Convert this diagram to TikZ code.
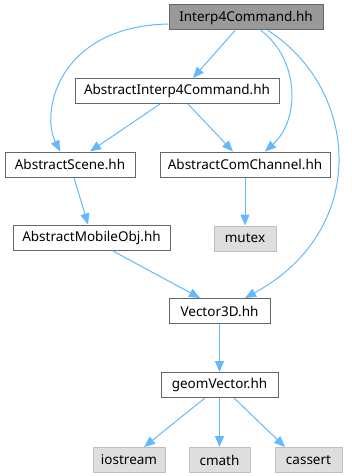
\documentclass[tikz,border=0pt]{standalone}
\usepackage{fontspec}
\setmainfont{Noto Sans}
\usepackage{xcolor}
\definecolor{cEdge}{HTML}{63B8FF}
\definecolor{cBorder}{HTML}{666666}
\definecolor{cRoot}{HTML}{999999}
\definecolor{cExt}{HTML}{DEDEDE}
\definecolor{cExtBorder}{HTML}{BFBFBF}
\usepackage{tikz}
\usetikzlibrary{positioning,arrows.meta}
\tikzset{
  node-box/.style={draw=cBorder,fill=white,line width=1pt,inner sep=0pt,
    minimum height=25pt,align=center,font=\fontsize{13.5}{15}\selectfont},
  node-root/.style={fill=cRoot},
  node-ext/.style={draw=cExtBorder,fill=cExt},
  arrow/.style={-{Triangle[length=11pt,width=9pt]},line width=1pt,draw=cEdge},
}

\begin{document}
\begin{tikzpicture}[x=1pt,y=-1pt,node distance=48pt and 23pt]
  \useasboundingbox (0,0) rectangle (352,476);
  \node[node-box,node-root,minimum width=154pt] (root) at (246,17.5) {Interp4Command.hh};
  \node[node-box,minimum width=204pt] (interp) at (177,91) {AbstractInterp4Command.hh};
  \node[node-box,minimum width=130pt] (scene) at (70,164.5) {AbstractScene.hh};
  \node[node-box,minimum width=170pt] (chan) at (245,164.5) {AbstractComChannel.hh};
  \node[node-box,minimum width=157pt] (mobile) at (91.5,237.5) {AbstractMobileObj.hh};
  \node[node-box,node-ext,minimum width=62pt,below=of chan] (mutex) {mutex};
  \node[node-box,minimum width=101pt] (vec) at (219.5,311) {Vector3D.hh};
  \node[node-box,minimum width=117pt,below=of vec] (geom) {geomVector.hh};
  \node[node-box,node-ext,minimum width=61pt,below=49pt of geom] (cmath) {cmath};
  \node[node-box,node-ext,minimum width=72pt,left=of cmath] (ios) {iostream};
  \node[node-box,node-ext,minimum width=67pt,right=24pt of cmath] (cassert) {cassert};
  % includes of the root header
  \draw[arrow] ([xshift=-11pt]root.south) -- ([xshift=16pt]interp.north);
  \draw[arrow] ([yshift=-6.5pt]root.west) .. controls (60,26) and (40,110) .. ([xshift=-10pt]scene.north);
  \draw[arrow] ([xshift=15pt]root.south) .. controls (300,60) and (300,120) .. ([xshift=20pt]chan.north);
  \draw[arrow] ([xshift=22pt]root.south) .. controls (360,90) and (370,230) .. ([xshift=25.5pt]vec.north);
  % second level
  \draw[arrow] ([xshift=-17pt]interp.south) -- ([xshift=20pt]scene.north);
  \draw[arrow] ([xshift=11pt]interp.south) -- ([xshift=-12pt]chan.north);
  \draw[arrow] ([xshift=4pt]scene.south) -- ([xshift=-3.5pt]mobile.north);
  \draw[arrow] (chan) -- (mutex);
  \draw[arrow] ([xshift=20.5pt]mobile.south) -- ([xshift=-19.5pt]vec.north);
  \draw[arrow] (vec) -- (geom);
  % standard headers
  \draw[arrow] ([xshift=-14.5pt]geom.south) -- ([xshift=15pt]ios.north);
  \draw[arrow] (geom) -- (cmath);
  \draw[arrow] ([xshift=14.5pt]geom.south) -- ([xshift=-23.5pt]cassert.north);
\end{tikzpicture}
\end{document}
